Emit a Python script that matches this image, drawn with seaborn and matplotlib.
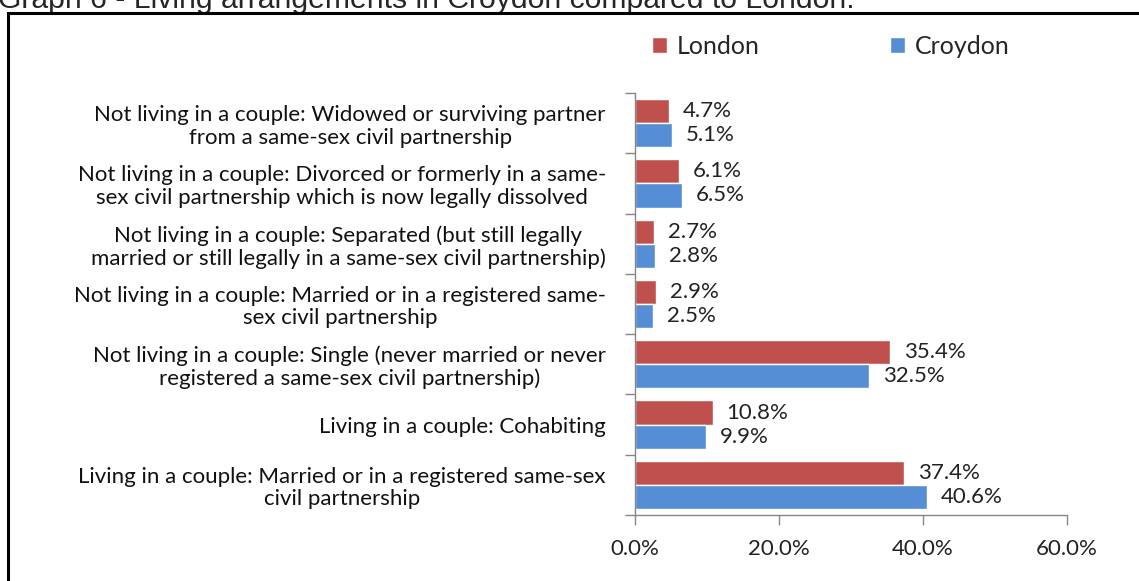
"""
Graph 6 - Living arrangements in Croydon compared to London.
Barre orizzontali raggruppate, salvate in out.png
"""

import numpy as np
import pandas as pd
import matplotlib
matplotlib.use("Agg")
import matplotlib.pyplot as plt
import seaborn as sns
from matplotlib.patches import Rectangle
from matplotlib.ticker import FuncFormatter

# ─────────────────────────────────────────────
# DATI
# ─────────────────────────────────────────────
CATEGORIES = [
    "Not living in a couple: Widowed or surviving partner\nfrom a same-sex civil partnership",
    "Not living in a couple: Divorced or formerly in a same-\nsex civil partnership which is now legally dissolved",
    "Not living in a couple: Separated (but still legally\nmarried or still legally in a same-sex civil partnership)",
    "Not living in a couple: Married or in a registered same-\nsex civil partnership",
    "Not living in a couple: Single (never married or never\nregistered a same-sex civil partnership)",
    "Living in a couple: Cohabiting",
    "Living in a couple: Married or in a registered same-sex\ncivil partnership",
]
LONDON  = [4.7, 6.1, 2.7, 2.9, 35.4, 10.8, 37.4]
CROYDON = [5.1, 6.5, 2.8, 2.5, 32.5, 9.9, 40.6]
SERIES  = ["London", "Croydon"]
COLORS  = {"London": "#C0504D", "Croydon": "#558ED5"}
X_TICKS = [0, 20, 40, 60]

df = pd.DataFrame({
    "category": CATEGORIES * 2,
    "area": ["London"] * len(CATEGORIES) + ["Croydon"] * len(CATEGORIES),
    "value": LONDON + CROYDON,
})

# ─────────────────────────────────────────────
# FIGURA
# ─────────────────────────────────────────────
sns.set_style("white")
plt.rcParams["font.family"] = ["Lato", "DejaVu Sans"]
FS = 16

fig = plt.figure(figsize=(11.39, 5.81), dpi=100)
ax = fig.add_axes([0.5575, 0.1136, 0.3793, 0.7264])

sns.barplot(data=df, y="category", x="value", hue="area", hue_order=SERIES,
            order=CATEGORIES, palette=COLORS, orient="h", width=0.8,
            saturation=1, ax=ax)

for cont in ax.containers:
    ax.bar_label(cont, labels=[f"{v:.1f}%" for v in cont.datavalues],
                 padding=10, fontsize=FS, color="#222222")

ax.set_xlim(0, 60)
ax.set_xticks(X_TICKS)
ax.xaxis.set_major_formatter(FuncFormatter(lambda v, p: f"{v:.1f}%"))
ax.set_xlabel("")
ax.set_ylabel("")

# tick asse y sui bordi delle categorie
ax.set_yticks(np.arange(len(CATEGORIES)))
ax.set_yticklabels(CATEGORIES, fontsize=FS, multialignment="center", color="#111111",
                   linespacing=1.15)
ax.set_yticks(np.arange(len(CATEGORIES) + 1) - 0.5, minor=True)
ax.set_ylim(len(CATEGORIES) - 0.5, -0.5)
ax.tick_params(axis="y", which="major", length=0, pad=21)
ax.tick_params(axis="y", which="minor", length=7, color="#868686", width=1, left=True)
ax.tick_params(axis="x", which="major", length=7, color="#868686", width=1,
               bottom=True, labelsize=FS, labelcolor="#222222", pad=10)

for side in ["top", "right"]:
    ax.spines[side].set_visible(False)
for side in ["left", "bottom"]:
    ax.spines[side].set_color("#868686")
    ax.spines[side].set_linewidth(1)

# legenda in alto
handles, labels = ax.get_legend_handles_labels()
ax.legend(handles, labels, loc="center left", bbox_to_anchor=(-0.013, 1.111),
          ncol=2, frameon=False, fontsize=18, handlelength=0.6,
          handleheight=0.6, columnspacing=5.2, handletextpad=0.4)

# bordo nero e titolo tagliato in alto
fig.patches.append(Rectangle((8 / 1139, -0.1), 1.2, 1.1 - 13 / 581,
                             transform=fig.transFigure, fill=False,
                             edgecolor="black", linewidth=2.2, zorder=10))
fig.text(-2 / 1139, 1 - 8 / 581, "Graph 6 - Living arrangements in Croydon compared to London.",
         fontsize=21.7, family="Liberation Sans", va="baseline", ha="left")

plt.savefig("out.png", dpi=100)
plt.close()
